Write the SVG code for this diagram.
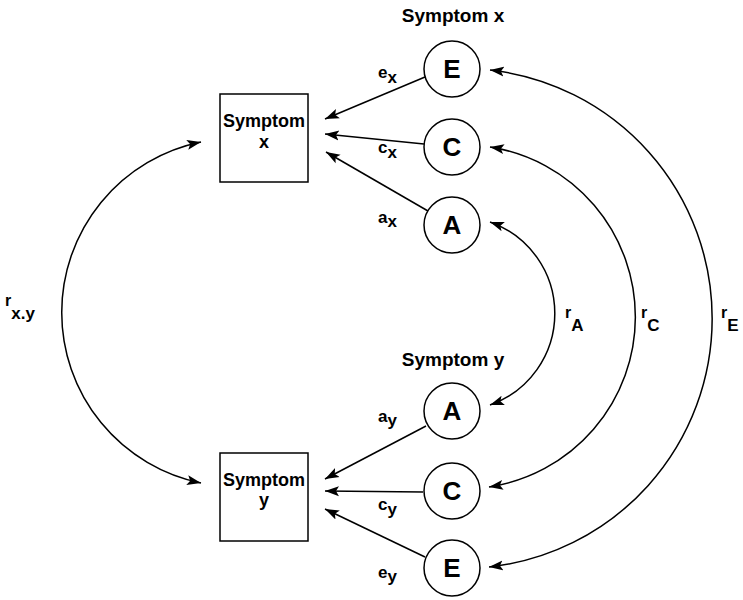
<svg xmlns="http://www.w3.org/2000/svg" width="743" height="600" viewBox="0 0 743 600">
<defs>
<style>
.t{font-family:"Liberation Sans",Arial,sans-serif;font-weight:bold;fill:#000}
.box{fill:#fff;stroke:#000;stroke-width:1.5}
.circ{fill:#fff;stroke:#000;stroke-width:1.5}
.lbl{font-size:19px;text-anchor:middle}
.big{font-size:26px;text-anchor:middle}
.sm{font-size:17px}
.sub{font-size:17px}
.rr{font-size:16px}
.rs{font-size:17px}
.bx{font-size:18px;text-anchor:middle}
.con{fill:none;stroke:#000;stroke-width:1.5}
</style>
<marker id="ah" markerUnits="userSpaceOnUse" markerWidth="16" markerHeight="12" refX="14" refY="5" orient="auto-start-reverse" viewBox="0 0 16 10">
<path d="M0,0 L14,5 L0,10 L3,5 Z" fill="#000"/>
</marker>
</defs>
<rect width="743" height="600" fill="#fff"/>
<g id="connectors">
<path class="con" d="M425,77 L325,119" marker-end="url(#ah)"/>
<path class="con" d="M424,144 L325,134" marker-end="url(#ah)"/>
<path class="con" d="M428,211 L326,152" marker-end="url(#ah)"/>
<path class="con" d="M426,426 L325,479" marker-end="url(#ah)"/>
<path class="con" d="M423,492 L325,491" marker-end="url(#ah)"/>
<path class="con" d="M425,557 L325,509" marker-end="url(#ah)"/>
<path class="con" d="M201,142 A174,174 0 0 0 201,483" marker-start="url(#ah)" marker-end="url(#ah)"/>
<path class="con" d="M490,222 A97,97 0 0 1 490,405" marker-start="url(#ah)" marker-end="url(#ah)"/>
<path class="con" d="M490,147 A172,172 0 0 1 489,487" marker-start="url(#ah)" marker-end="url(#ah)"/>
<path class="con" d="M490,70 A250,250 0 0 1 489,567" marker-start="url(#ah)" marker-end="url(#ah)"/>
</g>
<g id="labels">
<text class="t sm" x="378" y="78">e<tspan class="sub" dy="5">x</tspan></text>
<text class="t sm" x="378" y="153">c<tspan class="sub" dy="5">x</tspan></text>
<text class="t sm" x="378" y="223">a<tspan class="sub" dy="4">x</tspan></text>
<text class="t sm" x="378" y="422">a<tspan class="sub" dy="4">y</tspan></text>
<text class="t sm" x="378" y="510">c<tspan class="sub" dy="5">y</tspan></text>
<text class="t sm" x="378" y="578">e<tspan class="sub" dy="4">y</tspan></text>
<text class="t rr" x="565" y="318">r<tspan class="rs" dy="13">A</tspan></text>
<text class="t rr" x="641" y="318">r<tspan class="rs" dy="13">C</tspan></text>
<text class="t rr" x="721" y="318">r<tspan class="rs" dy="13">E</tspan></text>
<text class="t rr" x="5" y="306">r<tspan class="rs" dy="13">x.y</tspan></text>
<text class="t lbl" x="453" y="22">Symptom x</text>
<text class="t lbl" x="453" y="366">Symptom y</text>
</g>
<g id="symptom-x">
<rect class="box" x="220" y="94" width="88" height="88"/>
<text class="t bx" x="264" y="127">Symptom</text>
<text class="t bx" x="264" y="148">x</text>
</g>
<g id="symptom-y">
<rect class="box" x="220" y="453" width="88" height="88"/>
<text class="t bx" x="264" y="486">Symptom</text>
<text class="t bx" x="264" y="506">y</text>
</g>
<g id="Ex"><circle class="circ" cx="452" cy="69" r="28"/><text class="t big" x="452" y="78">E</text></g>
<g id="Cx"><circle class="circ" cx="452" cy="147" r="28"/><text class="t big" x="452" y="156">C</text></g>
<g id="Ax"><circle class="circ" cx="452" cy="225" r="28"/><text class="t big" x="452" y="234">A</text></g>
<g id="Ay"><circle class="circ" cx="452" cy="411" r="28"/><text class="t big" x="452" y="420">A</text></g>
<g id="Cy"><circle class="circ" cx="452" cy="491" r="28"/><text class="t big" x="452" y="500">C</text></g>
<g id="Ey"><circle class="circ" cx="452" cy="568" r="28"/><text class="t big" x="452" y="577">E</text></g>
</svg>
